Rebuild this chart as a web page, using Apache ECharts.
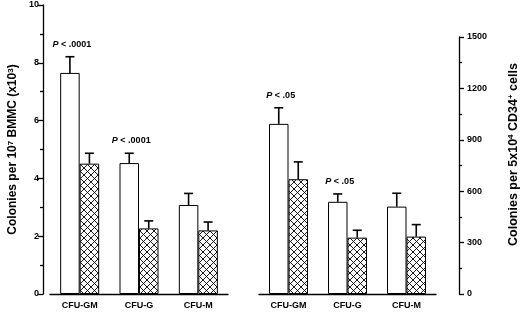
<!DOCTYPE html>
<html>
<head>
<meta charset="utf-8">
<script src="https://cdn.jsdelivr.net/npm/echarts@6/dist/echarts.min.js"></script>
<style>
  html, body { margin: 0; padding: 0; background: #fff; }
  #chart { width: 520px; height: 314px; }
</style>
</head>
<body>
<div id="chart"></div>
<script>
// categories
const categories = ['CFU-GM', 'CFU-G', 'CFU-M'];

// left panel: colonies per 10^7 BMMC (x10^3)
const bmmcOpen = [7.65, 4.53, 3.08];
const bmmcOpenErr = [8.21, 4.87, 3.48];
const bmmcHatch = [4.51, 2.27, 2.2];
const bmmcHatchErr = [4.87, 2.53, 2.49];
const bmmcP = ['P < .0001', 'P < .0001', ''];

// right panel: colonies per 5x10^4 CD34+ cells
const cd34Open = [993, 538, 510];
const cd34OpenErr = [1087, 584, 588];
const cd34Hatch = [670, 329, 335];
const cd34HatchErr = [771, 372, 405];
const cd34P = ['P < .05', 'P < .05', ''];

const font = '"Liberation Sans", Arial, sans-serif';
const barW = 19.5;

// crosshatch pattern
function hatch() {
  const s = 7;
  const c = document.createElement('canvas');
  c.width = s; c.height = s;
  const g = c.getContext('2d');
  g.fillStyle = '#fff';
  g.fillRect(0, 0, s, s);
  g.strokeStyle = '#000';
  g.lineWidth = 0.9;
  g.beginPath();
  g.moveTo(0, 0); g.lineTo(s, s);
  g.moveTo(0, s); g.lineTo(s, 0);
  g.moveTo(-1, 1); g.lineTo(1, -1);
  g.moveTo(s - 1, s + 1); g.lineTo(s + 1, s - 1);
  g.stroke();
  return c;
}
const hatchFill = { image: hatch(), repeat: 'repeat' };

function errRows(tops, vals, side, labels) {
  return tops.map((t, i) => [i, t, vals[i], side, labels ? labels[i] : '']);
}

function renderErr(params, api) {
  const cat = api.value(0);
  const side = api.value(3);
  const top = api.coord([cat, api.value(1)]);
  const base = api.coord([cat, api.value(2)]);
  const x = top[0] + side * barW / 2;
  const children = [
    { type: 'line', shape: { x1: x, y1: base[1], x2: x, y2: top[1] },
      style: { stroke: '#000', lineWidth: 1.6 } },
    { type: 'line', shape: { x1: x - 4.5, y1: top[1], x2: x + 4.5, y2: top[1] },
      style: { stroke: '#000', lineWidth: 1.6 } }
  ];
  const lab = api.value(4);
  if (lab) {
    children.push({
      type: 'text',
      x: x + 2, y: top[1] - 8,
      style: {
        text: '{i|P}' + lab.slice(1),
        align: 'center', verticalAlign: 'bottom',
        font: 'bold 9px ' + font, fill: '#000',
        rich: { i: { fontStyle: 'italic', fontWeight: 'bold', fontSize: 9, fontFamily: font } }
      }
    });
  }
  return { type: 'group', children: children };
}

const tickLabel = { color: '#000', fontWeight: 'bold', fontSize: 9, fontFamily: font };
const xAxisCommon = {
  type: 'category',
  data: categories,
  axisLine: { lineStyle: { color: '#000', width: 1.3 } },
  axisTick: { show: false },
  axisLabel: Object.assign({ margin: 7 }, tickLabel)
};
const supStyle = { fontSize: 8, fontWeight: 'bold', fontFamily: font, verticalAlign: 'top', lineHeight: 8, padding: [0, 0, 8, 0] };

const chart = echarts.init(document.getElementById('chart'));
chart.setOption({
  backgroundColor: '#fff',
  animation: false,
  grid: [
    { left: 50, width: 178, top: 5, height: 289, outerBoundsMode: 'none', containLabel: false },
    { left: 259, width: 177, top: 37, height: 257, outerBoundsMode: 'none', containLabel: false }
  ],
  xAxis: [
    Object.assign({ gridIndex: 0 }, xAxisCommon),
    Object.assign({ gridIndex: 1 }, xAxisCommon)
  ],
  yAxis: [
    {
      gridIndex: 0, type: 'value', min: 0, max: 10, interval: 2, offset: 7,
      axisLine: { show: true, lineStyle: { color: '#000', width: 1.3 } },
      axisTick: { show: true, length: 5, lineStyle: { color: '#000', width: 1.3 } },
      minorTick: { show: true, splitNumber: 2, length: 3, lineStyle: { color: '#000', width: 1.3 } },
      splitLine: { show: false },
      axisLabel: Object.assign({ margin: 4 }, tickLabel),
      name: 'Colonies per 10{s|7} BMMC (x10{s|3})',
      nameLocation: 'middle', nameGap: 24, nameRotate: 90,
      nameTextStyle: {
        color: '#000', fontWeight: 'bold', fontSize: 12, fontFamily: font,
        rich: { s: supStyle }
      }
    },
    {
      gridIndex: 1, type: 'value', position: 'right', min: 0, max: 1500, interval: 300, offset: 23,
      axisLine: { show: true, lineStyle: { color: '#000', width: 1.3 } },
      axisTick: { show: true, length: 5, lineStyle: { color: '#000', width: 1.3 } },
      minorTick: { show: true, splitNumber: 2, length: 3, lineStyle: { color: '#000', width: 1.3 } },
      splitLine: { show: false },
      axisLabel: Object.assign({ margin: 8, formatter: v => String(v) }, tickLabel),
      name: 'Colonies per 5x10{s|4} CD34{s|+} cells',
      nameLocation: 'middle', nameGap: 48, nameRotate: 90,
      nameTextStyle: {
        color: '#000', fontWeight: 'bold', fontSize: 12.5, fontFamily: font,
        padding: [0, 0, 0, 22],
        rich: { s: supStyle }
      }
    }
  ],
  series: [
    { type: 'bar', xAxisIndex: 0, yAxisIndex: 0, data: bmmcOpen, barWidth: barW, barGap: '0%',
      itemStyle: { color: '#fff', borderColor: '#000', borderWidth: 1 } },
    { type: 'bar', xAxisIndex: 0, yAxisIndex: 0, data: bmmcHatch, barWidth: barW, barGap: '0%',
      itemStyle: { color: hatchFill, borderColor: '#000', borderWidth: 1 } },
    { type: 'custom', xAxisIndex: 0, yAxisIndex: 0, renderItem: renderErr, z: 5,
      data: errRows(bmmcOpenErr, bmmcOpen, -1, bmmcP).concat(errRows(bmmcHatchErr, bmmcHatch, 1)) },
    { type: 'bar', xAxisIndex: 1, yAxisIndex: 1, data: cd34Open, barWidth: barW, barGap: '0%',
      itemStyle: { color: '#fff', borderColor: '#000', borderWidth: 1 } },
    { type: 'bar', xAxisIndex: 1, yAxisIndex: 1, data: cd34Hatch, barWidth: barW, barGap: '0%',
      itemStyle: { color: hatchFill, borderColor: '#000', borderWidth: 1 } },
    { type: 'custom', xAxisIndex: 1, yAxisIndex: 1, renderItem: renderErr, z: 5,
      data: errRows(cd34OpenErr, cd34Open, -1, cd34P).concat(errRows(cd34HatchErr, cd34Hatch, 1)) }
  ]
});
</script>
</body>
</html>
